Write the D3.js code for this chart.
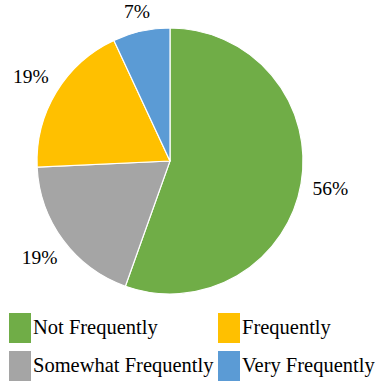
<!DOCTYPE html>
<html>
<head>
<meta charset="utf-8">
<script src="https://cdn.jsdelivr.net/npm/d3@7"></script>
<style>
  html, body { margin: 0; padding: 0; background: #fff; }
  svg { display: block; }
  svg text, .serif { font-family: "Liberation Serif", "Times New Roman", Times, serif !important; }
</style>
</head>
<body>
<svg id="chart" width="375" height="381" font-family="Liberation Serif"></svg>
<script>
// Survey response shares, in slice order (clockwise from 12 o'clock)
const categories = ["Not Frequently", "Somewhat Frequently", "Frequently", "Very Frequently"];
const percents = [56, 19, 19, 7];
const colors = ["#70AD47", "#A5A5A5", "#FFC000", "#5B9BD5"];

// Legend reading order (two columns)
const legendOrder = ["Not Frequently", "Frequently", "Somewhat Frequently", "Very Frequently"];

const svg = d3.select("#chart");
const cx = 170, cy = 161, r = 133;
const serif = "\"Liberation Serif\", \"Times New Roman\", Times, serif";

const color = d3.scaleOrdinal().domain(categories).range(colors);

const data = categories.map((c, i) => ({ cat: c, value: percents[i] }));
const pie = d3.pie().sort(null).value(d => d.value);
const arc = d3.arc().innerRadius(0).outerRadius(r);
const arcs = pie(data);

const g = svg.append("g").attr("transform", `translate(${cx},${cy})`);

g.selectAll("path.slice")
  .data(arcs)
  .join("path")
  .attr("class", "slice")
  .attr("d", arc)
  .attr("fill", d => color(d.data.cat))
  .attr("stroke", "#fff")
  .attr("stroke-width", 1.2);

// Percentage labels, pushed just outside the rim along each slice's mid-angle
const labelSize = 19.5;
const capH = 13;
const gap = 11;
g.selectAll("text.pct")
  .data(arcs)
  .join("text")
  .attr("class", "pct serif")
  .style("font-family", serif, "important")
  .attr("font-size", labelSize)
  .attr("fill", "#000")
  .attr("text-anchor", "middle")
  .text(d => d.data.value + "%")
  .each(function (d) {
    const a = (d.startAngle + d.endAngle) / 2;
    const ux = Math.sin(a), uy = -Math.cos(a);
    const w = labelSize * (d.data.value >= 10 ? 1.833 : 1.333);
    const extent = Math.abs(ux) * w / 2 + Math.abs(uy) * capH / 2;
    const dist = r + gap + extent;
    d3.select(this)
      .attr("x", ux * dist)
      .attr("y", uy * dist + capH / 2);
  });

// Legend
const legend = svg.append("g");
const colX = [9, 218];
const rowY = [313, 351];
const items = legend.selectAll("g.item")
  .data(legendOrder)
  .join("g")
  .attr("class", "item")
  .attr("transform", (d, i) => `translate(${colX[i % 2]},${rowY[Math.floor(i / 2)]})`);

items.append("rect")
  .attr("width", 22)
  .attr("height", 30)
  .attr("fill", d => color(d));

items.append("text")
  .attr("class", "serif")
  .attr("x", 24)
  .attr("y", 21)
  .style("font-family", serif, "important")
  .attr("font-size", 20.5)
  .attr("fill", "#000")
  .text(d => d);
</script>
</body>
</html>
